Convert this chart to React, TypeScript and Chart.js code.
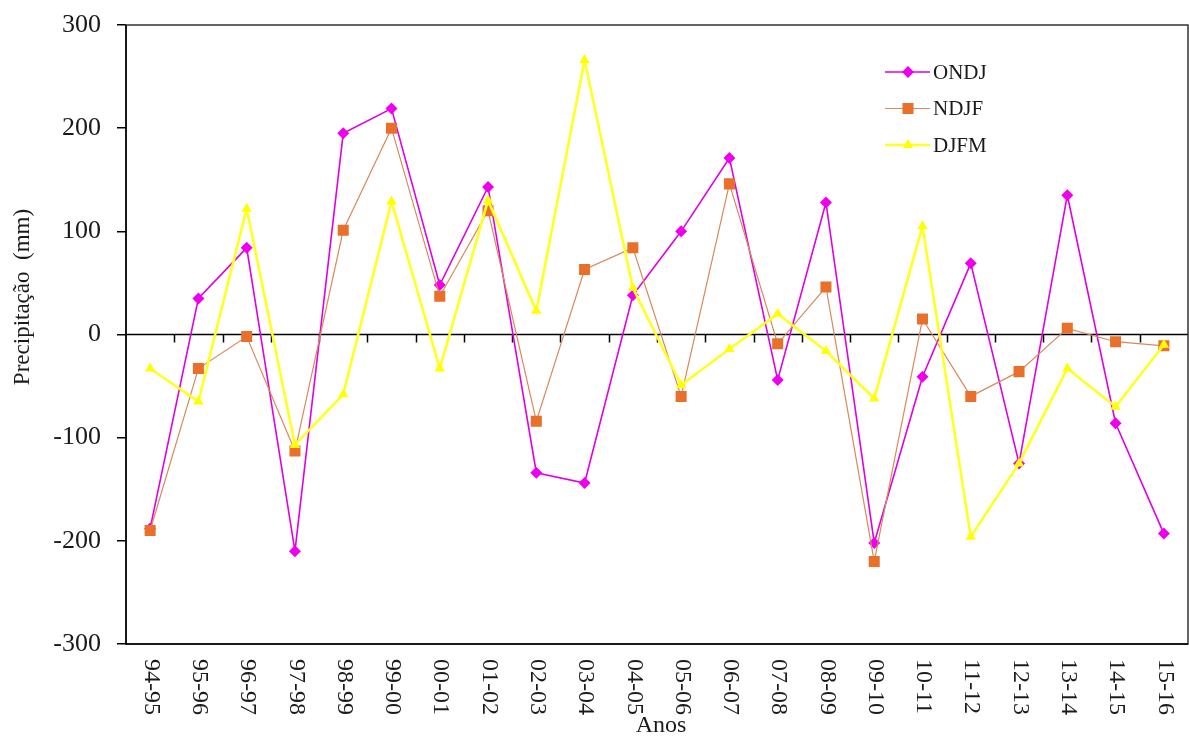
import React, { useEffect, useRef } from "react";
import { Chart, registerables } from "chart.js";

Chart.register(...registerables);

const years = ["94-95", "95-96", "96-97", "97-98", "98-99", "99-00", "00-01", "01-02", "02-03", "03-04", "04-05", "05-06", "06-07", "07-08", "08-09", "09-10", "10-11", "11-12", "12-13", "13-14", "14-15", "15-16"];
const ondj = [-188, 35, 84, -210, 195, 219, 48, 143, -134, -144, 38, 100, 171, -44, 128, -202, -41, 69, -125, 135, -86, -193];
const ndjf = [-190, -33, -2, -113, 101, 200, 37, 120, -84, 63, 84, -60, 146, -9, 46, -220, 15, -60, -36, 6, -7, -11];
const djfm = [-33, -65, 122, -107, -58, 129, -33, 130, 23, 266, 45, -49, -14, 20, -16, -62, 105, -196, -125, -33, -70, -10];
const seriesNames = ["ONDJ", "NDJF", "DJFM"];
const yTickValues = [-300, -200, -100, 0, 100, 200, 300];
const yTitle = "Precipitação  (mm)";
const xTitle = "Anos";

const FONT = '"Liberation Serif", "Times New Roman", serif';
const colors = ["#EE00EE", "#E8702A", "#FFFF00"];
const lineColors = ["#E000E0", "#D98A5A", "#FFFF22"];
const lineWidths = [1.6, 1.2, 2.6];
const styles = ["rectRot", "rect", "triangle"];
const radii = [6, 7.8, 6];

function drawMarker(ctx: CanvasRenderingContext2D, style: string, x: number, y: number, r: number, color: string) {
  ctx.save();
  ctx.fillStyle = color;
  ctx.beginPath();
  if (style === "rectRot") {
    ctx.moveTo(x, y - r);
    ctx.lineTo(x + r, y);
    ctx.lineTo(x, y + r);
    ctx.lineTo(x - r, y);
  } else if (style === "rect") {
    const s = Math.SQRT1_2 * r;
    ctx.rect(x - s, y - s, 2 * s, 2 * s);
  } else {
    for (let k = 0; k < 3; k++) {
      const a = (k * 2 * Math.PI) / 3;
      const px = x + Math.sin(a) * r;
      const py = y - Math.cos(a) * r;
      if (k === 0) ctx.moveTo(px, py);
      else ctx.lineTo(px, py);
    }
  }
  ctx.closePath();
  ctx.fill();
  ctx.restore();
}

const decorPlugin = {
  id: "decor",
  beforeDatasetsDraw(chart: any) {
    const { ctx, chartArea } = chart;
    const y0 = chart.scales.y.getPixelForValue(0);
    const n = years.length;
    const w = (chartArea.right - chartArea.left) / n;
    ctx.save();
    ctx.strokeStyle = "#000";
    ctx.lineWidth = 1.5;
    ctx.beginPath();
    ctx.moveTo(chartArea.left, y0);
    ctx.lineTo(chartArea.right, y0);
    for (let i = 1; i < n; i++) {
      const x = Math.round(chartArea.left + i * w) + 0.5;
      ctx.moveTo(x, y0);
      ctx.lineTo(x, y0 + 8);
    }
    ctx.stroke();
    ctx.restore();
  },
  afterDraw(chart: any) {
    const { ctx, chartArea } = chart;
    ctx.save();
    // frame
    ctx.strokeStyle = "#333";
    ctx.lineWidth = 1.5;
    ctx.strokeRect(chartArea.left, chartArea.top, chartArea.right - chartArea.left, chartArea.bottom - chartArea.top);
    ctx.strokeStyle = "#000";
    ctx.beginPath();
    ctx.moveTo(chartArea.left, chartArea.top);
    ctx.lineTo(chartArea.left, chartArea.bottom);
    ctx.lineTo(chartArea.right, chartArea.bottom);
    ctx.stroke();

    // x labels rotated clockwise
    ctx.fillStyle = "#1a1a1a";
    ctx.font = `24px ${FONT}`;
    ctx.textAlign = "left";
    ctx.textBaseline = "middle";
    years.forEach((lab, i) => {
      const x = chart.scales.x.getPixelForValue(i);
      ctx.save();
      ctx.translate(x + 1, chartArea.bottom + 15);
      ctx.rotate(Math.PI / 2);
      ctx.fillText(lab, 0, 0);
      ctx.restore();
    });

    // axis titles
    ctx.textAlign = "center";
    ctx.textBaseline = "alphabetic";
    ctx.font = `24px ${FONT}`;
    ctx.fillText(xTitle, 661, 732);
    ctx.save();
    ctx.translate(29, 297);
    ctx.rotate(-Math.PI / 2);
    ctx.font = `23px ${FONT}`;
    ctx.fillText(yTitle, 0, 0);
    ctx.restore();

    // legend
    seriesNames.forEach((name, i) => {
      const y = 72 + i * 36.5;
      ctx.strokeStyle = lineColors[i];
      ctx.lineWidth = lineWidths[i];
      ctx.beginPath();
      ctx.moveTo(885, y);
      ctx.lineTo(930, y);
      ctx.stroke();
      drawMarker(ctx, styles[i], 908, y, radii[i], colors[i]);
      ctx.fillStyle = "#1a1a1a";
      ctx.font = `21px ${FONT}`;
      ctx.textAlign = "left";
      ctx.textBaseline = "middle";
      ctx.fillText(name, 933, y + 1);
    });
    ctx.restore();
  },
};

export default function App() {
  const ref = useRef<HTMLCanvasElement | null>(null);
  useEffect(() => {
    if (!ref.current) return;
    const series = [ondj, ndjf, djfm];
    const chart = new Chart(ref.current, {
      type: "line",
      data: {
        labels: years,
        datasets: series.map((d, i) => ({
          label: seriesNames[i],
          data: d,
          borderColor: lineColors[i],
          borderWidth: lineWidths[i],
          backgroundColor: colors[i],
          pointBackgroundColor: colors[i],
          pointBorderColor: colors[i],
          pointBorderWidth: 0,
          pointStyle: styles[i] as any,
          pointRadius: radii[i],
          tension: 0,
          fill: false,
          order: 2 - i,
        })),
      },
      options: {
        responsive: false,
        animation: false,
        events: [],
        layout: { autoPadding: false, padding: { left: 0, top: 25, right: 1, bottom: 0 } },
        plugins: { legend: { display: false }, tooltip: { enabled: false } },
        scales: {
          x: {
            type: "category",
            offset: true,
            grid: { display: false },
            border: { display: false },
            ticks: { display: false },
            afterFit: (s: any) => {
              s.height = 93;
            },
          },
          y: {
            min: -300,
            max: 300,
            afterBuildTicks: (s: any) => {
              s.ticks = yTickValues.map((v) => ({ value: v }));
            },
            grid: { drawOnChartArea: false, drawTicks: true, tickLength: 9, color: "#000", lineWidth: 1.5 },
            border: { display: false },
            ticks: {
              padding: 16,
              color: "#1a1a1a",
              font: { family: FONT, size: 26 },
            },
            afterFit: (s: any) => {
              s.width = 126;
              s.paddingTop = 0;
              s.paddingBottom = 0;
            },
          },
        },
      },
      plugins: [decorPlugin],
    });
    return () => chart.destroy();
  }, []);
  return (
    <div style={{ position: "absolute", left: 0, top: 0, width: 1189, height: 737, background: "#fff" }}>
      <canvas ref={ref} width={1189} height={737} style={{ display: "block" }} />
    </div>
  );
}
